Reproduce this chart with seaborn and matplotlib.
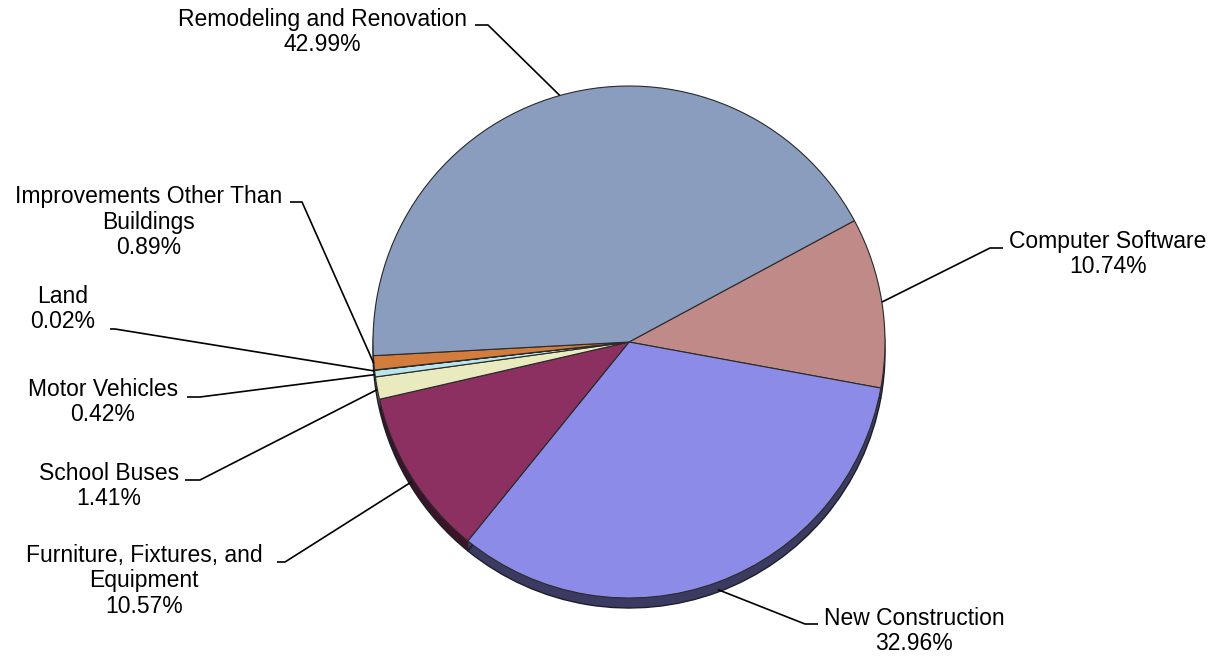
import numpy as np
import matplotlib
matplotlib.use("Agg")
import matplotlib.pyplot as plt
import matplotlib.colors as mcolors
import seaborn as sns

# Capital outlay shares by category (percent), in drawing order (clockwise)
categories = [
    "Computer Software",
    "New Construction",
    "Furniture, Fixtures, and\nEquipment",
    "School Buses",
    "Motor Vehicles",
    "Land",
    "Improvements Other Than\nBuildings",
    "Remodeling and Renovation",
]
shares = [10.74, 32.96, 10.57, 1.41, 0.42, 0.02, 0.89, 42.99]
slice_colors = ["#C08A89", "#8C8CE8", "#8B3060", "#EAEABF",
                "#B8E6EC", "#9A7FB8", "#D47C3C", "#8A9DBE"]

# Label layout in pixels from the top-left corner:
# text centre (x, y), leader start x next to the text, elbow x, leader y
label_layout = {
    "Computer Software": ((1108, 254), 1003, 990, 248),
    "New Construction": ((914, 631), 818, 805, 624),
    "Furniture, Fixtures, and\nEquipment": ((144, 581), 277, 285, 562),
    "School Buses": ((109, 486), 185, 200, 480),
    "Motor Vehicles": ((103, 402), 187, 200, 397),
    "Land": ((63, 309), 110, 115, 329),
    "Improvements Other Than\nBuildings": ((149, 222), 290, 302, 202),
    "Remodeling and Renovation": ((322, 32), 475, 488, 25),
}

W, H = 1215, 657
CX, CY, R = 629, 342, 256
DEPTH = 10
START = 28.3

sns.set_theme(style="white")
plt.rcParams["font.family"] = ["Liberation Sans", "DejaVu Sans"]

fig = plt.figure(figsize=(W / 100, H / 100), dpi=100)
ax = fig.add_axes([0, 0, 1, 1])


def Y(y):
    return H - y


def darken(c, f=0.42):
    r, g, b = mcolors.to_rgb(c)
    return (r * f, g * f, b * f)


# side wall of the disc: the same pie shifted down in a darker shade
for off in range(DEPTH, 0, -1):
    ax.pie(shares, startangle=START, counterclock=False,
           center=(CX, Y(CY) - off), radius=R,
           colors=[darken(c) for c in slice_colors],
           wedgeprops=dict(edgecolor="none", linewidth=0))
ax.pie(shares, startangle=START, counterclock=False,
       center=(CX, Y(CY) - DEPTH), radius=R, colors=["none"] * len(shares),
       wedgeprops=dict(edgecolor="#1e1e2a", linewidth=1.0, fill=False))

# top face
wedges, _ = ax.pie(shares, startangle=START, counterclock=False,
                   center=(CX, Y(CY)), radius=R, colors=slice_colors,
                   wedgeprops=dict(edgecolor="#2a2a2a", linewidth=0.8))

for w, cat, val in zip(wedges, categories, shares):
    (tx, ty), x0, x1, ly = label_layout[cat]
    ax.text(tx, Y(ty), f"{cat}\n{val:.2f}%", ha="center", va="center",
            multialignment="center", fontsize=16.5, color="black",
            linespacing=1.12)
    mid = np.deg2rad((w.theta1 + w.theta2) / 2)
    ex = CX + R * np.cos(mid)
    ey = Y(CY) + R * np.sin(mid) - DEPTH * 0.8 * max(0.0, -np.sin(mid))
    ax.plot([x0, x1, ex], [Y(ly), Y(ly), ey], color="black", lw=1.2,
            solid_capstyle="butt", zorder=5)

ax.set_xlim(0, W)
ax.set_ylim(0, H)
ax.set_aspect("equal")
ax.axis("off")
fig.savefig("out.png", dpi=100)
